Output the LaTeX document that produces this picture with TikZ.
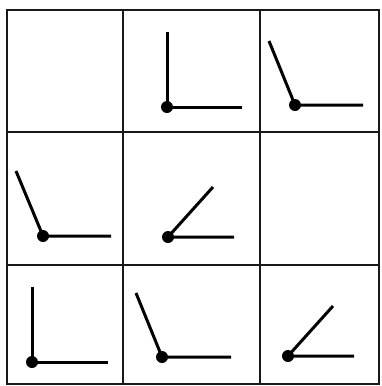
\documentclass[tikz,border=0pt]{standalone}
\usepackage{tikz}
\usetikzlibrary{calc}
\tikzset{
  gridline/.style={draw=black!90,line width=2.4pt},
  armline/.style={draw=black,line width=3pt},
  pivot/.style={fill=black},
}
% pivot point, tip of the slanted arm, end of the flat arm
\newcommand{\anglefig}[3]{%
  \draw[armline] (#2) -- (#1) -- (#3);
  \fill[pivot] (#1) circle (6);
}

\begin{document}
\begin{tikzpicture}[x=1pt,y=-1pt]
\useasboundingbox (0,0) rectangle (382,386);
% grid
\draw[gridline] (7,10) rectangle (379,384);
\foreach \gx in {123,260}
  \draw[gridline] (\gx,10) -- (\gx,384);
\foreach \gy in {132,265}
  \draw[gridline] (7,\gy) -- (379,\gy);
% first row
\anglefig{167,107}{167,32}{242,107}
\anglefig{295,105}{269,41}{363,105}
% second row
\anglefig{43,236}{16,171}{111,236}
\anglefig{168,237}{213,187}{234,237}
% third row
\anglefig{32,362}{32,287}{108,362}
\anglefig{162,357}{136,293}{231,357}
\anglefig{288,356}{333,306}{354,356}
\end{tikzpicture}
\end{document}
